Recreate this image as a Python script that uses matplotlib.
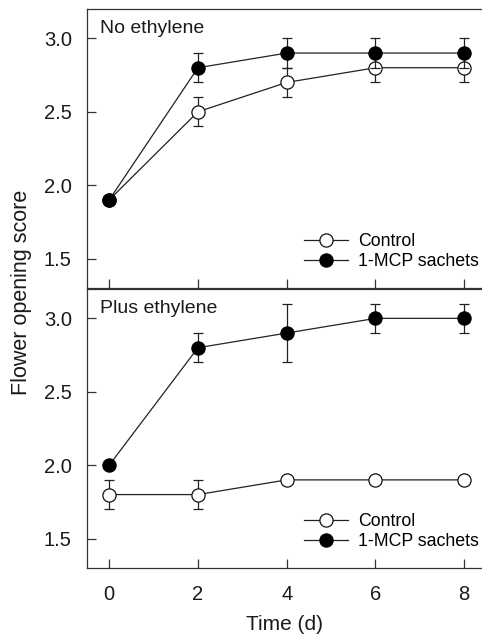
import numpy as np
import matplotlib
matplotlib.use("Agg")
import matplotlib.pyplot as plt

plt.rcParams["font.family"] = ["Liberation Sans", "DejaVu Sans"]

days = [0, 2, 4, 6, 8]
panel_titles = ["No ethylene", "Plus ethylene"]
series_names = ["Control", "1-MCP sachets"]

# No ethylene
ctrl_no = [1.9, 2.5, 2.7, 2.8, 2.8]
ctrl_no_err = [0.0, 0.1, 0.1, 0.1, 0.1]
mcp_no = [1.9, 2.8, 2.9, 2.9, 2.9]
mcp_no_err = [0.0, 0.1, 0.1, 0.1, 0.1]

# Plus ethylene
ctrl_plus = [1.8, 1.8, 1.9, 1.9, 1.9]
ctrl_plus_err = [0.1, 0.1, 0.0, 0.0, 0.0]
mcp_plus = [2.0, 2.8, 2.9, 3.0, 3.0]
mcp_plus_err = [0.0, 0.1, 0.2, 0.1, 0.1]

yticks = [1.5, 2.0, 2.5, 3.0]

W, H = 482, 638
fig = plt.figure(figsize=(W / 100, H / 100), dpi=100)
left = 87 / W
ax_top = fig.add_axes([left, 1 - 288 / H, 1 - left, 279 / H])
ax_bot = fig.add_axes([left, 1 - 568 / H, 1 - left, 279 / H], sharex=ax_top)

spine_c = "#333333"
txt_c = "#1a1a1a"
panels = [
    (ax_top, panel_titles[0], ctrl_no, ctrl_no_err, mcp_no, mcp_no_err),
    (ax_bot, panel_titles[1], ctrl_plus, ctrl_plus_err, mcp_plus, mcp_plus_err),
]

for ax, title, c, ce, m, me in panels:
    ax.errorbar(days, c, yerr=ce, fmt="none", ecolor="#222222",
                elinewidth=0.9, capsize=3.5, capthick=0.9, zorder=2)
    ax.plot(days, c, "-o", color="#222222", lw=0.9, ms=9.5,
            mfc="white", mec="#111111", mew=0.9, zorder=3,
            label=series_names[0])
    ax.errorbar(days, m, yerr=me, fmt="none", ecolor="#222222",
                elinewidth=0.9, capsize=3.5, capthick=0.9, zorder=4)
    ax.plot(days, m, "-o", color="#222222", lw=0.9, ms=9.5,
            mfc="black", mec="black", mew=0.9, zorder=5,
            label=series_names[1])

    ax.set_xlim(-0.5, 8.4)
    ax.set_ylim(1.3, 3.2)
    ax.set_yticks(yticks)
    ax.set_yticklabels([f"{v:.1f}" for v in yticks])
    ax.set_xticks(days)
    ax.spines["right"].set_visible(False)
    for s in ["left", "top", "bottom"]:
        ax.spines[s].set_color(spine_c)
        ax.spines[s].set_linewidth(0.9)
    ax.tick_params(axis="both", direction="in", length=6.5, width=0.9,
                   color=spine_c, labelsize=14.5, labelcolor=txt_c, pad=11)
    ax.tick_params(axis="x", pad=12)
    ax.text(0.033, 0.93, title, transform=ax.transAxes, fontsize=14,
            color=txt_c, va="center", ha="left")
    ax.legend(loc="lower right", bbox_to_anchor=(1.033, 0.006), frameon=False,
              fontsize=12.8, handlelength=2.5, handletextpad=0.55,
              labelspacing=0.2)

ax_top.tick_params(axis="x", labelbottom=False)

ax_bot.set_xlabel("Time (d)", fontsize=15, labelpad=8, color=txt_c)
fig.text(22 / W, 1 - 292 / H, "Flower opening score", rotation=90,
         fontsize=15.5, ha="center", va="center", color=txt_c)

fig.savefig("out.png", dpi=100)
